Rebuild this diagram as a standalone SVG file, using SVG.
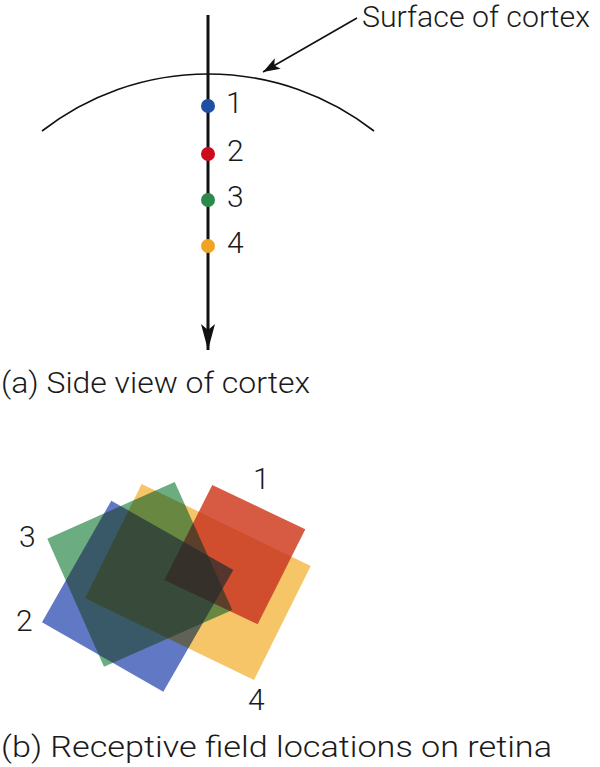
<svg xmlns="http://www.w3.org/2000/svg" width="600" height="767" viewBox="0 0 600 767">
<style>
text{font-family:Roboto,"Liberation Sans",Arial,sans-serif;font-weight:300;fill:#1a1a1a}
.lbl{font-size:29px}
.num{font-size:30px}
.sq{mix-blend-mode:multiply}
</style>
<defs>
<marker id="ah" viewBox="0 0 17 12" refX="17" refY="6" markerWidth="17" markerHeight="12" markerUnits="userSpaceOnUse" orient="auto">
<path d="M0,0 L17,6 L0,12 L4,6 Z" fill="#111"/>
</marker>
<marker id="ah2" viewBox="0 0 26 14" refX="26" refY="7" markerWidth="26" markerHeight="14" markerUnits="userSpaceOnUse" orient="auto">
<path d="M0,0 L26,7 L0,14 L6,7 Z" fill="#111"/>
</marker>
<filter id="lift" x="0" y="0" width="1" height="1" color-interpolation-filters="sRGB">
<feComponentTransfer>
<feFuncR type="linear" slope="0.85" intercept="0.15"/>
<feFuncG type="linear" slope="0.85" intercept="0.15"/>
<feFuncB type="linear" slope="0.85" intercept="0.15"/>
</feComponentTransfer>
</filter>
</defs>
<rect width="600" height="767" fill="#fff"/>
<g id="cortex-surface">
<path d="M42,131 A270,270 0 0 1 374,131" fill="none" stroke="#111" stroke-width="1.6"/>
</g>
<g id="connectors">
<line x1="208" y1="15" x2="208" y2="350" stroke="#111" stroke-width="3" marker-end="url(#ah2)"/>
<line x1="357" y1="18" x2="263" y2="72" stroke="#111" stroke-width="1.6" marker-end="url(#ah)"/>
</g>
<g id="label-surface"><text class="lbl" x="362" y="27" textLength="228" lengthAdjust="spacingAndGlyphs">Surface of cortex</text></g>
<g id="dot1"><circle cx="208" cy="106" r="7" fill="#1f4fa3"/><text class="num" x="226" y="113">1</text></g>
<g id="dot2"><circle cx="208" cy="154" r="7" fill="#cc0a1c"/><text class="num" x="227" y="161">2</text></g>
<g id="dot3"><circle cx="208" cy="200" r="7" fill="#2c8a4a"/><text class="num" x="227" y="207">3</text></g>
<g id="dot4"><circle cx="208" cy="246" r="7" fill="#f0a423"/><text class="num" x="227" y="253">4</text></g>
<g id="caption-a"><text class="lbl" x="1" y="393" textLength="309" lengthAdjust="spacingAndGlyphs">(a) Side view of cortex</text></g>
<g id="fields" filter="url(#lift)">
<rect x="30" y="475" width="290" height="225" fill="#fff"/>
<polygon class="sq" id="rf4" points="141.7,484 310.7,566 254,680 85,598.3" fill="#F5BB4D"/>
<polygon class="sq" id="rf1" points="212.3,485 305.3,529.3 257.7,624.3 164.3,580" fill="#D03F21"/>
<polygon class="sq" id="rf3" points="174.7,482 232.3,610 104,666.7 47.3,538.7" fill="#519E6A"/>
<polygon class="sq" id="rf2" points="111.3,500.7 233.3,570 163.3,691.7 42,622.3" fill="#4661BA"/>
</g>
<g id="rf-labels">
<text class="num" x="253" y="489">1</text>
<text class="num" x="16" y="631">2</text>
<text class="num" x="19" y="547">3</text>
<text class="num" x="248" y="710">4</text>
</g>
<g id="caption-b"><text class="lbl" x="1" y="757" textLength="551" lengthAdjust="spacingAndGlyphs">(b) Receptive field locations on retina</text></g>
</svg>
